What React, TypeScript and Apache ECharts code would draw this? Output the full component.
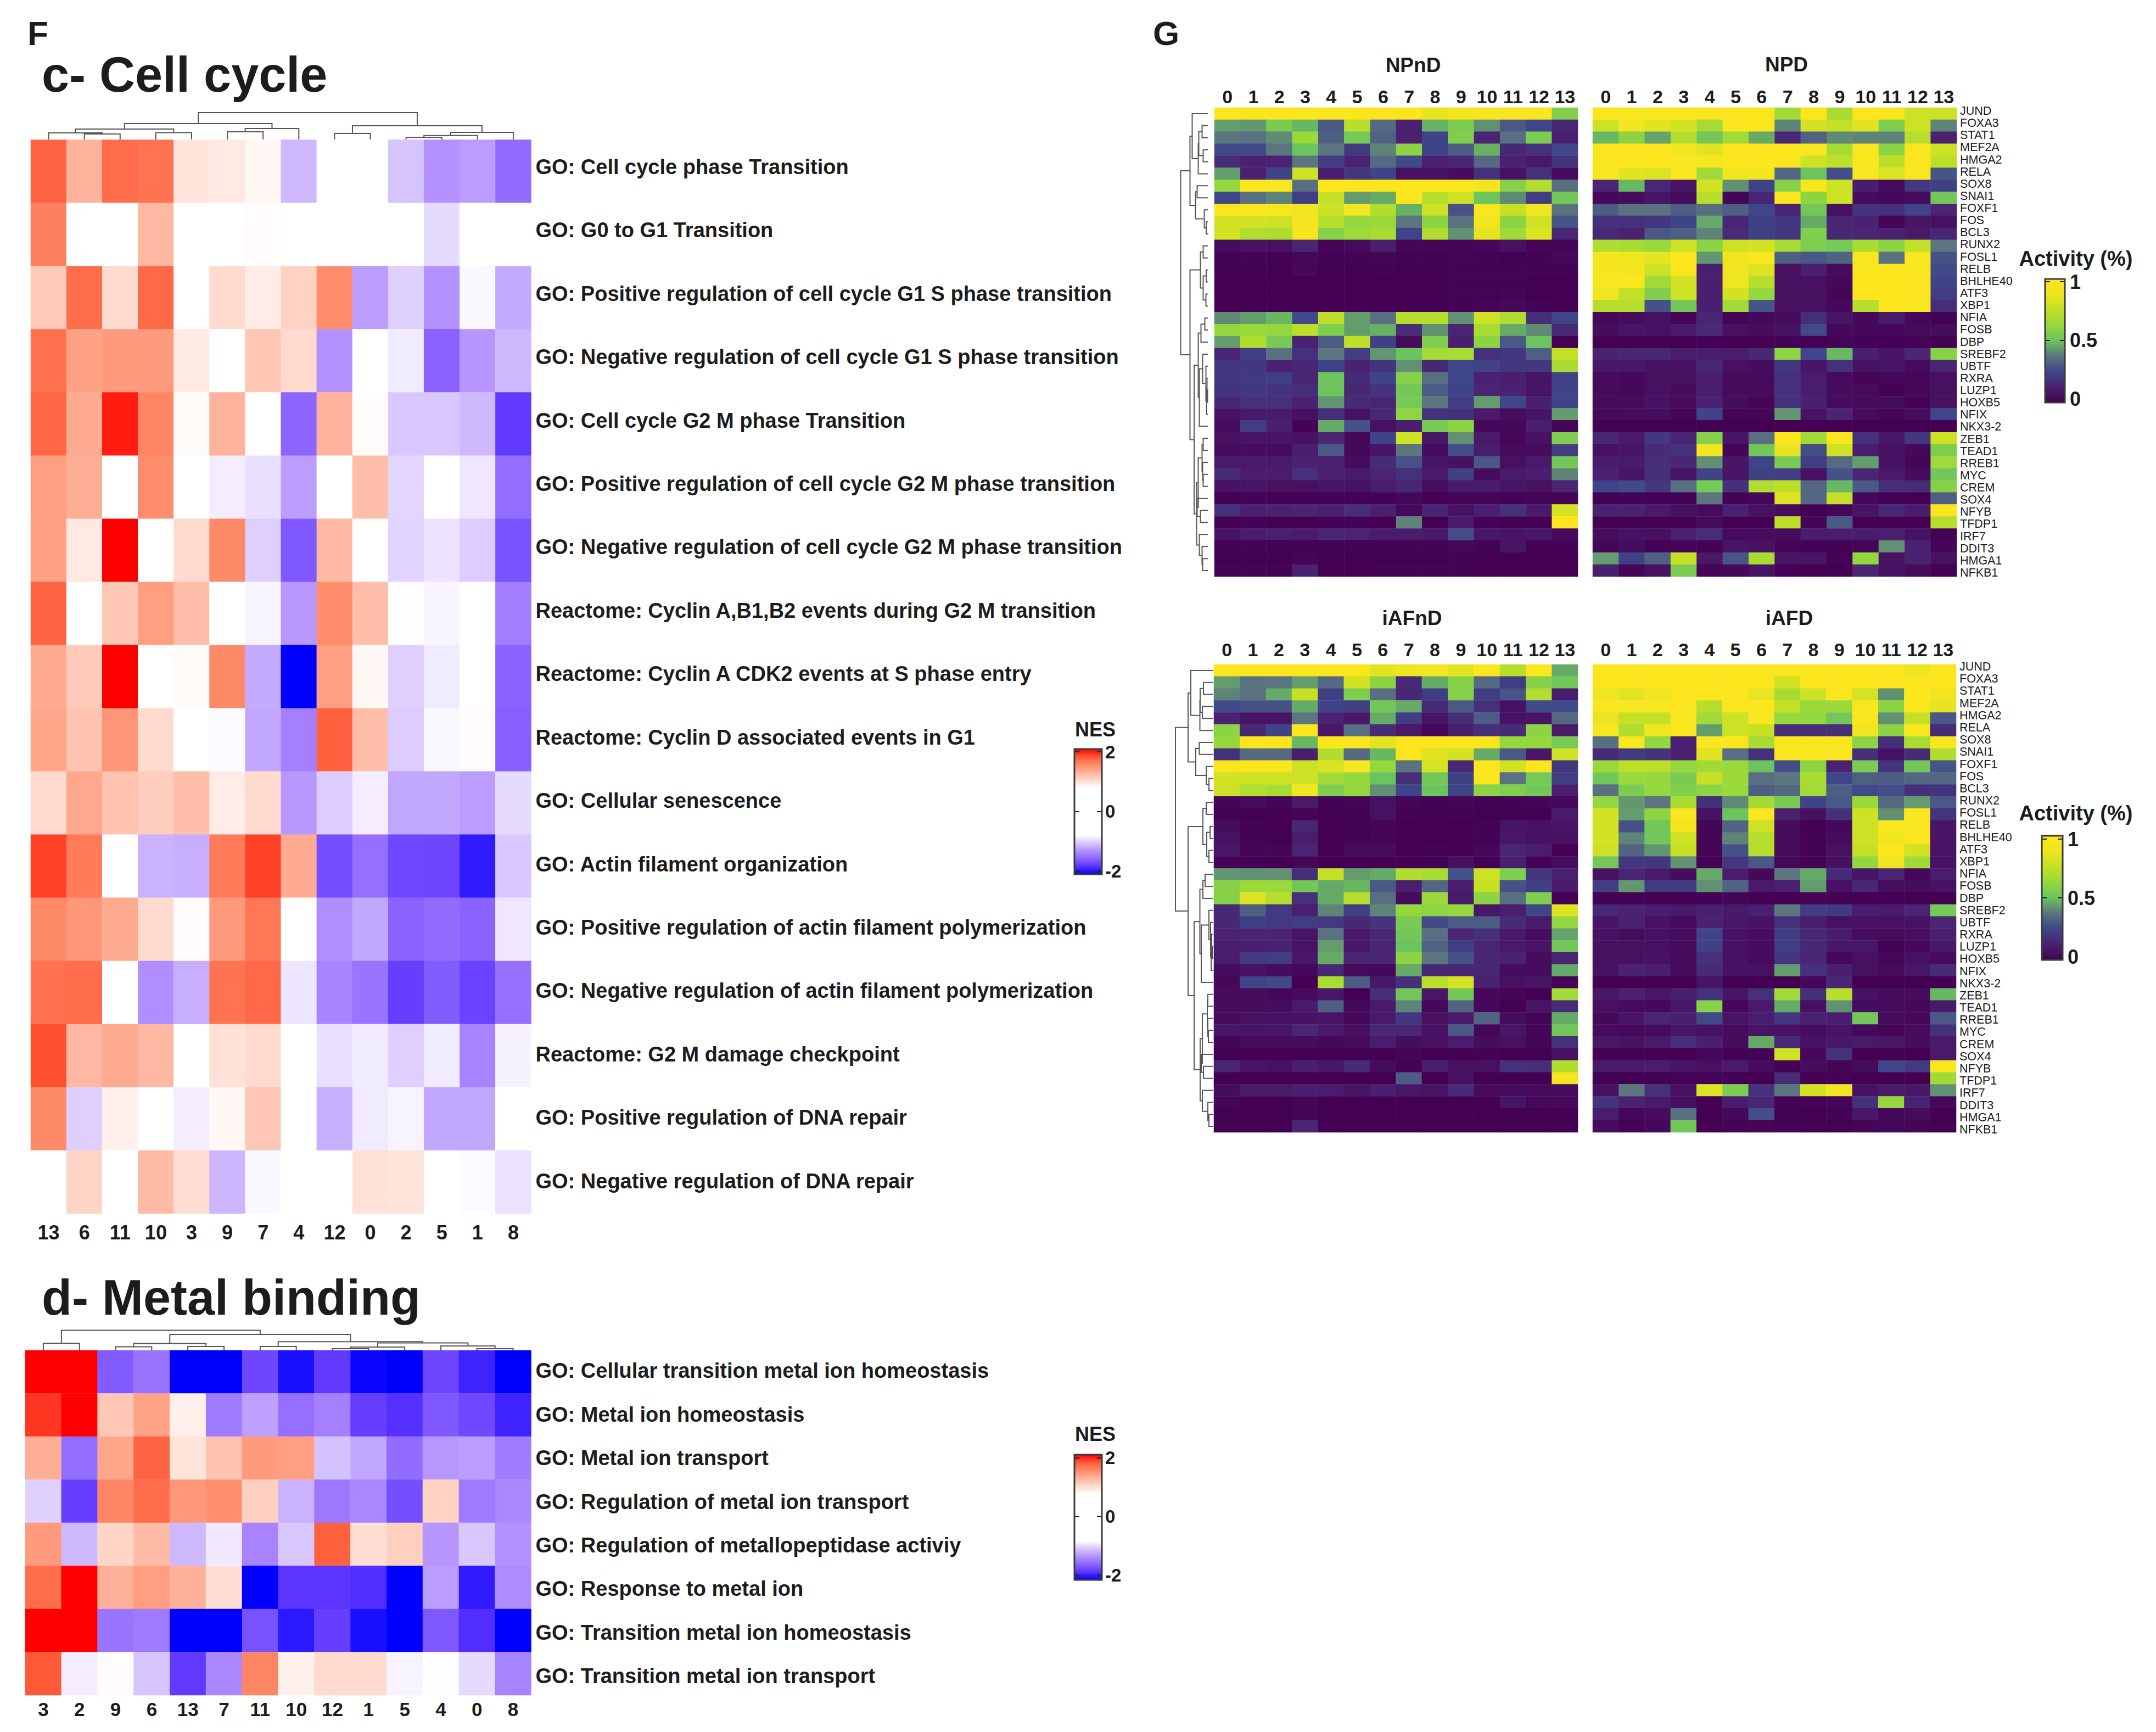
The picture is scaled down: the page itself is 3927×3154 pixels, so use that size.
import React, { useEffect, useRef } from "react";
import * as echarts from "echarts";

const FONT = "Liberation Sans";

const cColLabels = ["13","6","11","10","3","9","7","4","12","0","2","5","1","8"];
const cRowLabels = [
  "GO: Cell cycle phase Transition",
  "GO: G0 to G1 Transition",
  "GO: Positive regulation of cell cycle G1 S phase transition",
  "GO: Negative regulation of cell cycle G1 S phase transition",
  "GO: Cell cycle G2 M phase Transition",
  "GO: Positive regulation of cell cycle G2 M phase transition",
  "GO: Negative regulation of cell cycle G2 M phase transition",
  "Reactome: Cyclin A,B1,B2 events during G2 M transition",
  "Reactome: Cyclin A CDK2 events at S phase entry",
  "Reactome: Cyclin D associated events in G1",
  "GO: Cellular senescence",
  "GO: Actin filament organization",
  "GO: Positive regulation of actin filament polymerization",
  "GO: Negative regulation of actin filament polymerization",
  "Reactome: G2 M damage checkpoint",
  "GO: Positive regulation of DNA repair",
  "GO: Negative regulation of DNA repair",
];
const cValues = [
  [1.7,1.25,1.65,1.62,.93,.9,.8,-1.07,0,0,-1.02,-1.25,-1.2,-1.47],
  [1.55,0,0,1.22,0,0,.77,0,0,0,0,-.92,0,0],
  [1.1,1.65,1,1.67,0,1,.88,1.05,1.48,-1.2,-.96,-1.25,-.78,-1.13],
  [1.63,1.36,1.4,1.4,.9,0,1.13,1,-1.25,0,-.84,-1.52,-1.23,-1.07],
  [1.68,1.3,1.92,1.52,.78,1.25,0,-1.5,1.25,.77,-1,-1,-1.07,-1.72],
  [1.38,1.28,0,1.48,0,-.83,-.89,-1.2,0,1.18,-.94,0,-.86,-1.46],
  [1.36,.9,2,0,1,1.5,-.97,-1.57,1.22,0,-.95,-.88,-.98,-1.6],
  [1.7,0,1.12,1.38,1.18,0,-.8,-1.22,1.48,1.18,-.76,-.8,0,-1.36],
  [1.3,1.1,2,0,.78,1.5,-1.13,-2,1.38,.8,-.97,-.84,0,-1.52],
  [1.33,1.15,1.43,1,0,-.77,-1.15,-1.35,1.72,1.18,-.98,-.78,.77,-1.53],
  [1,1.32,1.15,1.08,1.18,.88,1,-1.22,-.98,-.83,-1.15,-1.15,-1.2,-.92],
  [1.82,1.58,0,-1.1,-1.12,1.58,1.82,1.3,-1.62,-1.45,-1.65,-1.66,-1.87,-1],
  [1.5,1.42,1.3,1,.77,1.4,1.6,0,-1.27,-1.15,-1.52,-1.47,-1.52,-.86],
  [1.63,1.65,0,-1.27,-1.12,1.62,1.67,-.87,-1.32,-1.42,-1.7,-1.55,-1.68,-1.45],
  [1.78,1.22,1.3,1.22,0,.95,1,0,-.9,-.84,-.97,-.84,-1.33,-.81],
  [1.5,-.97,.85,0,-.83,.8,1.12,0,-1.12,-.84,-.8,-1.15,-1.15,0],
  [0,1.03,0,1.2,.98,-1.08,-.78,0,0,.95,.93,0,-.77,-.88],
];

const dColLabels = ["3","2","9","6","13","7","11","10","12","1","5","4","0","8"];
const dRowLabels = [
  "GO: Cellular transition metal ion homeostasis",
  "GO: Metal ion homeostasis",
  "GO: Metal ion transport",
  "GO: Regulation of metal ion transport",
  "GO: Regulation of metallopeptidase activiy",
  "GO: Response to metal ion",
  "GO: Transition metal ion homeostasis",
  "GO: Transition metal ion transport",
];
const dValues = [
  [2,2,-1.55,-1.42,-2,-2,-1.66,-1.93,-1.72,-1.97,-2,-1.66,-1.83,-2],
  [1.85,2,1.12,1.35,.85,-1.38,-1.18,-1.45,-1.35,-1.7,-1.77,-1.57,-1.65,-1.83],
  [1.28,-1.46,1.33,1.7,.93,1.15,1.4,1.38,-1.03,-1.15,-1.47,-1.22,-1.2,-1.37],
  [-.96,-1.7,1.52,1.65,1.42,1.47,1.07,-1.1,-1.4,-1.3,-1.62,1.05,-1.38,-1.3],
  [1.4,-1.07,1.03,1.2,-1.07,-.85,-1.33,-1,1.72,.97,1.07,-1.23,-1,-1.25],
  [1.65,2,1.27,1.38,1.27,.97,-2,-1.75,-1.75,-1.78,-2,-1.2,-1.87,-1.28],
  [2,2,-1.42,-1.38,-2,-2,-1.6,-1.88,-1.7,-1.93,-2,-1.57,-1.78,-2],
  [1.75,-.83,.77,-1.02,-1.72,-1.3,1.52,.85,1,1,-.8,-.76,-.92,-1.33],
];

const clusterLabels = ["0","1","2","3","4","5","6","7","8","9","10","11","12","13"];
const geneLabels = ["JUND","FOXA3","STAT1","MEF2A","HMGA2","RELA","SOX8","SNAI1","FOXF1","FOS","BCL3","RUNX2","FOSL1","RELB","BHLHE40","ATF3","XBP1","NFIA","FOSB","DBP","SREBF2","UBTF","RXRA","LUZP1","HOXB5","NFIX","NKX3-2","ZEB1","TEAD1","RREB1","MYC","CREM","SOX4","NFYB","TFDP1","IRF7","DDIT3","HMGA1","NFKB1"];

const npndValues = [
  [98,98,98,98,98,98,98,98,86,93,97,97,97,57],
  [44,43,54,48,30,72,35,13,47,55,42,30,25,15],
  [38,37,41,64,32,53,33,13,24,56,14,36,55,12],
  [26,26,38,50,38,21,40,60,24,31,47,15,18,25],
  [16,13,13,38,22,13,35,26,12,15,35,13,9,19],
  [44,13,24,78,12,20,24,6,7,5,18,7,18,4],
  [62,98,97,36,98,98,98,98,98,97,93,58,70,36],
  [25,36,40,22,76,44,46,98,72,78,50,41,22,52],
  [98,98,97,90,78,92,70,47,78,28,97,76,88,37],
  [80,80,78,92,72,62,64,38,60,37,92,60,78,29],
  [80,70,69,95,58,64,68,24,70,42,86,65,82,15],
  [5,7,6,14,2,4,12,2,2,2,3,6,2,2],
  [1,1,1,3,1,1,2,1,1,2,1,0,1,3],
  [0,0,0,3,0,0,1,0,0,1,1,1,1,1],
  [0,0,0,0,0,0,0,0,0,1,1,1,0,0],
  [0,0,0,0,0,0,0,0,0,1,1,2,0,0],
  [0,0,0,0,0,0,0,0,0,1,2,3,1,0],
  [41,44,48,26,74,44,36,72,72,42,78,70,17,25],
  [62,64,62,74,56,44,47,17,42,14,68,46,41,16],
  [44,70,54,13,31,74,23,4,56,12,60,30,50,0],
  [14,22,37,18,38,22,43,50,66,68,18,20,32,75],
  [20,20,13,15,24,13,19,42,15,25,24,20,20,68],
  [20,21,22,14,50,16,24,58,36,25,13,12,8,24],
  [19,20,19,17,50,15,19,52,31,24,14,13,8,24],
  [15,18,18,13,43,16,14,53,38,22,44,25,12,24],
  [7,10,10,6,17,7,15,60,19,18,10,5,8,44],
  [5,22,12,1,46,28,6,12,54,60,3,3,12,2],
  [6,8,8,7,14,3,24,78,9,42,10,3,7,56],
  [4,5,5,12,30,3,8,38,5,27,11,4,4,22],
  [10,10,10,13,13,5,16,28,8,6,30,6,10,52],
  [16,11,11,18,13,10,14,18,10,23,4,10,12,40],
  [7,8,6,6,8,7,11,14,5,10,11,8,6,14],
  [0,1,1,1,1,1,1,3,0,2,2,1,2,2],
  [18,12,13,14,12,17,12,3,14,7,12,18,10,80],
  [0,1,0,0,1,1,0,40,0,10,1,0,0,98],
  [8,11,12,11,14,13,11,11,10,27,9,8,9,4],
  [1,1,1,1,1,1,1,1,1,3,1,8,0,1],
  [0,0,0,2,0,0,0,0,0,1,0,0,0,0],
  [1,1,1,13,0,0,1,1,1,1,0,0,0,0],
];

const npdValues = [
  [98,96,97,97,97,98,98,66,98,68,98,98,78,78],
  [78,94,84,80,67,97,98,40,80,76,84,56,78,40],
  [48,60,45,70,52,66,46,15,33,41,40,40,72,13],
  [98,98,98,92,84,98,98,98,96,68,97,60,97,78],
  [98,98,98,97,95,98,98,97,78,74,98,74,98,74],
  [96,84,82,96,65,90,94,34,50,27,96,82,96,29],
  [14,48,15,8,80,42,24,58,96,78,11,4,20,23],
  [3,5,8,4,72,2,14,97,60,78,5,3,4,52],
  [31,37,37,32,36,32,25,14,52,6,19,18,24,14],
  [18,18,20,24,46,14,23,20,46,14,13,2,8,6],
  [15,13,30,32,40,16,23,20,56,15,14,13,10,14],
  [70,68,64,78,60,78,80,68,56,53,68,60,75,38],
  [92,90,85,98,43,90,97,32,30,33,97,37,97,28],
  [95,93,78,98,12,90,83,6,12,4,98,98,97,26],
  [96,96,66,80,12,88,72,6,6,3,98,98,98,24],
  [88,75,56,78,12,80,62,6,6,2,98,98,98,22],
  [72,72,28,52,12,66,29,6,6,3,72,98,97,17],
  [3,4,6,2,14,2,3,5,17,8,3,10,3,1],
  [5,8,7,10,16,6,5,6,26,3,3,3,4,5],
  [0,0,0,0,1,0,0,1,0,1,1,1,1,0],
  [13,14,15,11,11,11,15,60,25,48,12,8,14,58],
  [9,9,6,6,15,6,5,20,8,18,7,8,4,14],
  [4,3,6,6,12,4,4,18,11,4,2,3,3,6],
  [4,3,6,5,11,4,4,19,11,5,4,1,3,6],
  [4,4,7,4,13,5,2,18,12,4,4,5,1,6],
  [3,4,5,2,24,2,2,43,8,14,4,2,5,25],
  [0,0,0,0,0,0,0,0,0,0,0,0,0,0],
  [15,10,20,14,58,8,36,98,65,98,18,9,20,78],
  [6,8,16,18,92,2,52,86,27,78,11,6,3,56],
  [11,10,17,15,42,8,24,54,22,35,44,7,2,65],
  [13,8,17,8,24,8,23,22,6,28,14,10,4,52],
  [24,26,20,36,53,18,70,74,34,48,30,17,16,58],
  [0,1,1,1,38,0,3,82,34,75,3,0,0,32],
  [13,13,10,6,4,13,7,5,0,2,8,15,11,98],
  [0,0,0,0,4,0,0,74,2,30,0,0,0,72],
  [5,7,6,12,16,4,5,4,11,11,11,12,7,1],
  [2,5,1,2,1,8,7,2,1,1,2,42,13,2],
  [44,23,32,76,9,29,68,8,8,1,62,7,13,6],
  [12,2,6,55,2,3,8,1,0,0,14,7,4,0],
];

const iafndValues = [
  [98,98,98,98,98,98,84,90,92,84,98,72,98,46],
  [44,37,38,44,35,80,60,16,46,58,35,22,58,52],
  [40,37,46,76,23,56,36,15,22,58,22,29,70,11],
  [26,28,28,46,24,22,52,46,16,30,18,7,26,26],
  [13,8,8,38,13,9,46,22,8,17,31,7,8,35],
  [60,15,24,98,9,36,16,10,3,12,17,16,60,10],
  [62,98,98,48,98,98,84,98,98,98,98,62,62,54],
  [18,35,35,12,70,35,48,98,84,80,46,30,9,78],
  [98,98,98,78,82,94,62,37,80,15,98,80,98,20],
  [80,78,78,78,66,62,50,17,52,23,98,37,53,22],
  [78,70,68,88,56,62,42,25,50,24,60,56,52,12],
  [2,4,2,10,1,2,7,2,1,2,1,1,2,3],
  [1,0,0,2,0,1,6,1,0,1,0,0,0,10],
  [5,1,0,15,0,1,2,0,0,0,1,8,7,8],
  [6,1,0,11,0,1,2,0,0,0,1,9,7,6],
  [9,2,2,14,0,4,4,0,1,0,3,14,11,0],
  [1,1,0,2,0,0,0,0,1,6,1,12,1,5],
  [43,42,42,17,76,44,46,70,68,28,78,56,20,13],
  [58,64,64,52,46,48,30,12,34,11,76,28,23,10],
  [58,82,72,18,46,72,36,5,64,10,60,36,56,0],
  [15,32,21,12,40,23,40,62,60,62,9,12,25,82],
  [15,23,21,22,21,15,19,54,26,31,31,16,10,62],
  [13,14,14,8,37,10,15,52,36,14,18,10,5,45],
  [11,12,13,8,44,9,14,50,33,22,14,10,8,52],
  [11,21,22,9,46,14,14,60,38,28,14,13,5,14],
  [4,7,4,3,15,4,3,46,15,14,15,5,4,46],
  [3,24,26,0,68,31,9,18,72,80,13,6,8,1],
  [4,4,3,4,9,0,17,52,9,52,3,2,0,66],
  [4,5,5,10,32,3,10,40,3,33,3,0,8,16],
  [4,6,7,7,8,3,10,20,6,10,33,5,2,46],
  [9,8,9,14,10,6,15,15,7,30,2,8,2,52],
  [2,4,4,5,3,4,11,5,6,11,5,6,2,18],
  [0,0,0,0,0,0,0,2,0,0,1,0,0,6],
  [14,8,7,12,9,16,5,1,12,6,6,18,17,70],
  [0,0,0,0,0,0,0,31,0,6,0,0,0,92],
  [5,10,10,12,11,8,12,9,8,16,4,5,4,5],
  [2,0,0,2,0,0,0,0,0,0,0,8,3,3],
  [0,0,0,2,0,0,0,0,0,0,0,0,0,0],
  [0,0,0,14,0,0,0,0,0,0,0,0,0,0],
];

const iafdValues = [
  [98,98,98,98,98,98,98,98,98,98,98,98,88,98],
  [98,98,98,98,98,98,98,80,98,98,98,98,98,98],
  [88,84,88,98,98,98,86,68,78,98,80,42,98,90],
  [97,96,96,98,72,97,98,75,64,64,97,60,98,86],
  [86,76,76,97,66,78,97,62,62,52,97,42,76,30],
  [96,70,88,97,44,78,76,17,17,17,88,60,97,16],
  [36,97,62,13,97,97,68,97,97,97,60,17,68,97],
  [16,21,19,13,84,36,18,97,97,97,17,7,16,70],
  [64,74,74,62,66,64,50,27,60,13,55,19,52,29],
  [52,64,62,54,76,64,36,38,68,25,32,31,34,34],
  [37,55,62,56,60,64,32,35,66,32,26,27,18,19],
  [62,43,38,68,17,41,66,54,24,30,64,35,44,30],
  [80,44,60,97,7,50,98,13,6,18,78,42,97,19],
  [80,28,52,92,2,33,78,4,0,3,78,97,97,8],
  [80,40,52,78,2,40,72,4,1,4,78,90,97,8],
  [78,33,43,76,2,28,72,4,1,6,76,98,80,8],
  [52,20,20,42,1,20,30,3,1,6,62,92,66,7],
  [6,14,10,5,46,11,3,38,46,16,8,14,3,11],
  [22,43,21,21,42,33,10,12,44,7,15,5,5,7],
  [0,1,0,0,1,2,0,0,2,0,0,1,0,0],
  [15,13,11,10,12,10,12,38,22,21,11,10,14,53],
  [8,13,7,4,13,9,7,18,11,6,7,6,7,14],
  [7,5,7,5,24,7,5,22,15,11,5,4,6,12],
  [6,6,6,5,23,7,4,22,15,9,9,1,3,9],
  [6,6,7,4,18,7,4,20,14,3,6,3,7,4],
  [7,13,11,4,16,7,6,44,18,12,6,4,9,16],
  [0,0,0,0,8,0,0,0,3,15,0,0,0,0],
  [9,13,9,12,18,8,18,66,17,72,7,5,5,48],
  [6,4,3,9,58,3,10,46,6,42,5,5,3,10],
  [3,8,14,12,26,8,11,20,13,12,52,4,3,30],
  [4,3,4,8,7,5,8,7,5,8,3,2,4,18],
  [9,7,10,17,12,5,46,16,7,9,10,9,5,10],
  [0,0,0,0,3,0,1,78,3,18,0,0,0,10],
  [10,10,11,8,6,10,5,1,5,2,5,25,21,97],
  [0,0,0,1,1,0,0,16,0,1,0,0,0,66],
  [6,38,18,7,82,55,18,38,80,92,7,10,9,42],
  [19,13,10,6,0,11,15,1,1,2,18,62,13,3],
  [11,3,5,36,0,3,27,1,0,1,9,3,4,0],
  [4,1,3,52,0,1,2,1,0,0,2,3,2,0],
];

// Dendrogram merges: non-negative = leaf index, negative -(k+1) = result of merge k.
const m = (k: number) => -(k + 1);
const cTreeMerges = [[1,2],[0,m(0)],[3,4],[m(1),m(2)],[5,6],[m(4),7],[m(3),m(5)],[8,9],[10,11],[m(8),12],[m(9),13],[m(7),m(10)],[m(6),m(11)]];
const cTreeHeights = [10,12,12.5,19,14,20,29,11,3.7,7.3,13,25,49];
const dTreeMerges = [[0,1],[2,3],[4,5],[m(1),m(2)],[6,7],[8,9],[m(5),10],[12,13],[11,m(7)],[m(6),m(8)],[m(4),m(9)],[m(3),m(10)],[m(0),m(11)]];
const dTreeHeights = [13,6.5,7,12.5,7,3,6,3,8,13.6,15.8,29,36.5];
const geneTreeMerges = [[1,2],[3,4],[m(0),m(1)],[m(2),5],[0,m(3)],[6,7],[9,10],[8,m(6)],[m(5),m(7)],[m(4),m(8)],[11,12],[13,14],[15,16],[m(11),m(12)],[m(10),m(13)],[17,18],[m(15),19],[23,24],[22,m(17)],[m(18),25],[21,m(19)],[20,m(20)],[m(21),26],[m(16),m(22)],[30,31],[29,m(24)],[27,28],[m(26),m(25)],[33,34],[32,m(28)],[m(27),m(29)],[37,38],[36,m(31)],[35,m(32)],[m(30),m(33)],[m(23),m(34)],[m(14),m(35)],[m(9),m(36)]];
const npndTreeHeights = [11,9,17,18,29,20,3.5,7,23,33,9,3.5,4,9,14,6,13,1,2,3,4,10,16,18,9,10,9,11,14,20,18,10,11,16,21,25.5,33,50];
const iafndTreeHeights = [18,20,24,24.5,41,25.5,8,13,32,46,13,6,8,12,19,15,19,2,3,4,5,8,22,24.5,9,10,10,11,18,22,20,8,10,20,24,35,46,69];

const nesTicks = [-2, 0, 2];
const activityTicks = [0, 0.5, 1];
const nesColors = ["#0000FF","#5C34FF","#8D66FF","#B391FF","#D9C8FF","#FFFFFF","#FFFFFF","#FFFFFF","#FFFFFF","#FFFFFF","#FFFFFF","#FFFFFF","#FFDACE","#FFB39C","#FF8A68","#FF5A38","#FF0000"];
const activityColors = ["#440154","#4A2070","#3E4689","#5B7380","#6BC45D","#96D83E","#C2E026","#EEE520","#FDE61E"];

function buildOption() {
  const grid: any[] = [], xAxis: any[] = [], yAxis: any[] = [], series: any[] = [], visualMap: any[] = [], graphic: any[] = [];

  const text = (s: string, x: number, y: number, size: number, align = "center") =>
    graphic.push({
      type: "text", x, y, z: 30, silent: true,
      style: { text: s, fill: "#1c1c1c", font: `bold ${size}px "${FONT}"`, textAlign: align, textVerticalAlign: "middle" },
    });

  const heatmap = (o: any) => {
    const [x0, y0, x1, y1] = o.rect;
    const g = grid.length, xi = xAxis.length, yi = yAxis.length;
    grid.push({ left: x0, top: y0, width: x1 - x0, height: y1 - y0 });
    xAxis.push({
      type: "category", gridIndex: g, data: o.cols, position: o.xPos,
      axisLine: { show: false }, axisTick: { show: false }, splitLine: { show: false }, splitArea: { show: false },
      axisLabel: { show: true, interval: 0, margin: o.xMargin, fontFamily: FONT, fontWeight: "bold", fontSize: o.xSize, color: "#1c1c1c" },
    });
    yAxis.push({
      type: "category", gridIndex: g, data: o.rows, inverse: true, position: "right",
      axisLine: { show: false }, axisTick: { show: false }, splitLine: { show: false }, splitArea: { show: false },
      axisLabel: { show: false },
    });
    const seriesIndex = series.length;
    const data: any[] = [];
    o.matrix.forEach((row: number[], r: number) => row.forEach((v: number, c: number) => data.push([c, r, v / (o.divide || 1)])));
    series.push({
      type: "heatmap", xAxisIndex: xi, yAxisIndex: yi, data, progressive: 0, silent: true, animation: false,
      emphasis: { disabled: true }, itemStyle: { borderWidth: 0 }, label: { show: false },
    });
    const bar = o.bar;
    visualMap.push({
      type: "continuous", seriesIndex, min: o.ticks[0], max: o.ticks[o.ticks.length - 1], calculable: false, hoverLink: false,
      inRange: { color: o.colors }, show: !!bar, padding: 0, z: 2, orient: "vertical",
      left: bar ? bar[0] : 0, top: bar ? bar[1] : 0,
      itemWidth: bar ? bar[2] - bar[0] : 10, itemHeight: bar ? bar[3] - bar[1] : 10,
    });
    if (o.ySize) {
      // the row names sit on their own slightly wider band, as in the source figure
      const lg = grid.length;
      grid.push({ left: x0, top: o.labelBand[0], width: x1 - x0, height: o.labelBand[1] });
      xAxis.push({ type: "value", gridIndex: lg, show: false, min: 0, max: 1 });
      yAxis.push({
        type: "category", gridIndex: lg, data: o.rows, inverse: true, position: "right",
        axisLine: { show: false }, axisTick: { show: false }, splitLine: { show: false },
        axisLabel: { show: true, interval: 0, margin: o.yMargin, fontFamily: FONT, fontWeight: o.yWeight, fontSize: o.ySize, color: "#1c1c1c" },
      });
    }
    if (bar) {
      const cb = grid.length;
      grid.push({ left: bar[0], top: o.tickTop, width: bar[2] - bar[0], height: o.tickBottom - o.tickTop });
      xAxis.push({ type: "value", gridIndex: cb, show: false, min: 0, max: 1 });
      const tickAxis = (position: string, labels: boolean) => ({
        type: "value", gridIndex: cb, position, z: 10, min: o.ticks[0], max: o.ticks[o.ticks.length - 1], interval: o.ticks[1] - o.ticks[0],
        axisLine: { show: false }, splitLine: { show: false },
        axisTick: { show: true, inside: true, length: 9, lineStyle: { color: "#222", width: 2 } },
        axisLabel: { show: labels, margin: o.tickMargin, fontFamily: FONT, fontWeight: "bold", fontSize: o.tickSize, color: "#1c1c1c" },
      });
      yAxis.push(tickAxis("left", false), tickAxis("right", true));
      graphic.push({
        type: "rect", z: 20, silent: true,
        shape: { x: bar[0], y: bar[1], width: bar[2] - bar[0], height: bar[3] - bar[1] },
        style: { fill: "none", stroke: "#3a3a3a", lineWidth: 3 },
      });
    }
  };

  const dendrogram = (o: any) => {
    const [x0, y0, x1, y1] = o.rect;
    const nodes: number[][] = [];
    const at = (ref: number) => (ref >= 0 ? [ref + 0.5, 0] : nodes[-ref - 1]);
    const data = o.merges.map((pair: number[], k: number) => {
      const a = at(pair[0]), b = at(pair[1]);
      nodes.push([(a[0] + b[0]) / 2, o.heights[k]]);
      return [a[0], a[1], b[0], b[1], o.heights[k]];
    });
    const g = grid.length, xi = xAxis.length, yi = yAxis.length;
    const top = o.orient === "top";
    const hMax = Math.max(...o.heights);
    grid.push({ left: x0, top: y0, width: x1 - x0, height: y1 - y0 });
    const posAxis = { type: "value", gridIndex: g, show: false, min: 0, max: o.leaves, inverse: !top };
    const hAxis = { type: "value", gridIndex: g, show: false, min: 0, max: hMax, inverse: !top };
    xAxis.push(top ? posAxis : hAxis);
    yAxis.push(top ? hAxis : posAxis);
    series.push({
      type: "custom", xAxisIndex: xi, yAxisIndex: yi, data, silent: true, animation: false,
      renderItem: (_p: any, api: any) => {
        const [p1, h1, p2, h2, h] = [0, 1, 2, 3, 4].map((d) => api.value(d));
        const raw = [[p1, h1], [p1, h], [p2, h], [p2, h2]];
        const points = raw.map((q) => api.coord(top ? q : [q[1], q[0]]));
        return { type: "polyline", shape: { points }, style: { fill: "none", stroke: "#565656", lineWidth: 2 } };
      },
    });
  };

  heatmap({
    rect: [56, 254.5, 967.5, 2210], cols: cColLabels, rows: cRowLabels, matrix: cValues, xPos: "bottom", xMargin: 16, xSize: 36,
    ySize: 38, yWeight: "bold", yMargin: 8, labelBand: [246.3, 1962], ticks: nesTicks, colors: nesColors,
    bar: [1957, 1364, 2007, 1592], tickTop: 1369, tickBottom: 1586, tickMargin: 6, tickSize: 33,
  });
  heatmap({
    rect: [46, 2459, 967.5, 3087], cols: dColLabels, rows: dRowLabels, matrix: dValues, xPos: "bottom", xMargin: 8, xSize: 35,
    ySize: 38, yWeight: "bold", yMargin: 8, labelBand: [2456.5, 635.5], ticks: nesTicks, colors: nesColors,
    bar: [1957, 2649, 2007, 2877], tickTop: 2654.5, tickBottom: 2868, tickMargin: 6, tickSize: 33,
  });
  heatmap({
    rect: [2212, 196, 2874, 1050], cols: clusterLabels, rows: geneLabels, matrix: npndValues, divide: 100, xPos: "top", xMargin: 3, xSize: 34,
    ticks: activityTicks, colors: activityColors,
  });
  heatmap({
    rect: [2901, 196, 3564, 1050], cols: clusterLabels, rows: geneLabels, matrix: npdValues, divide: 100, xPos: "top", xMargin: 3, xSize: 34,
    ySize: 21.5, yWeight: "normal", yMargin: 6, labelBand: [191, 863], ticks: activityTicks, colors: activityColors,
    bar: [3725, 508, 3761, 733], tickTop: 513, tickBottom: 726, tickMargin: 9, tickSize: 36,
  });
  heatmap({
    rect: [2211, 1210, 2874, 2062], cols: clusterLabels, rows: geneLabels, matrix: iafndValues, divide: 100, xPos: "top", xMargin: 10, xSize: 34,
    ticks: activityTicks, colors: activityColors,
  });
  heatmap({
    rect: [2901, 1210, 3563, 2062], cols: clusterLabels, rows: geneLabels, matrix: iafdValues, divide: 100, xPos: "top", xMargin: 10, xSize: 34,
    ySize: 21.5, yWeight: "normal", yMargin: 6, labelBand: [1203, 865], ticks: activityTicks, colors: activityColors,
    bar: [3719, 1522, 3757, 1748], tickTop: 1528, tickBottom: 1742, tickMargin: 9, tickSize: 36,
  });

  dendrogram({ rect: [56, 205, 967.5, 254], orient: "top", leaves: 14, merges: cTreeMerges, heights: cTreeHeights });
  dendrogram({ rect: [46, 2422.5, 967.5, 2459], orient: "top", leaves: 14, merges: dTreeMerges, heights: dTreeHeights });
  dendrogram({ rect: [2150.5, 196, 2200.5, 1050], orient: "left", leaves: 39, merges: geneTreeMerges, heights: npndTreeHeights });
  dendrogram({ rect: [2141, 1210, 2210, 2062], orient: "left", leaves: 39, merges: geneTreeMerges, heights: iafndTreeHeights });

  text("F", 50, 60, 62, "left");
  text("G", 2100, 60, 62, "left");
  text("c- Cell cycle", 76, 136, 90, "left");
  text("d- Metal binding", 76, 2363, 90, "left");
  text("NPnD", 2574, 118, 37);
  text("NPD", 3254, 117, 37);
  text("iAFnD", 2572, 1125, 37);
  text("iAFD", 3259, 1125, 37);
  text("NES", 1995, 1328, 36);
  text("NES", 1995, 2611, 36);
  text("Activity (%)", 3781, 471, 38);
  text("Activity (%)", 3781, 1481, 38);

  return { animation: false, backgroundColor: "#ffffff", grid, xAxis, yAxis, series, visualMap, graphic };
}

export default function App() {
  const ref = useRef<HTMLDivElement>(null);
  useEffect(() => {
    const chart = echarts.init(ref.current!, undefined, { renderer: "svg" });
    chart.setOption(buildOption() as any);
    return () => chart.dispose();
  }, []);
  return <div ref={ref} style={{ position: "absolute", left: 0, top: 0, width: 3927, height: 3154 }} />;
}
